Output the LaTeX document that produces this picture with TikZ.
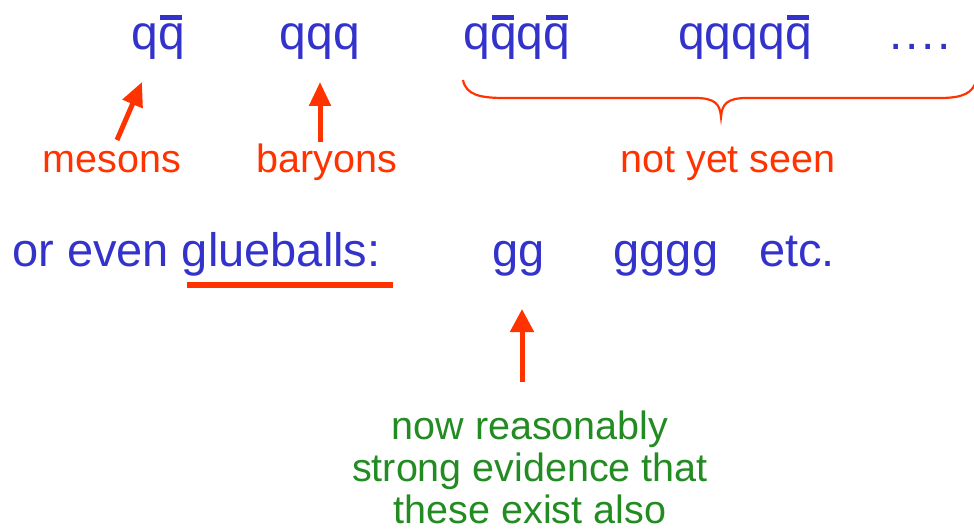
\documentclass[tikz,border=0pt]{standalone}
\usepackage{fontspec}
\setmainfont{Liberation Sans}
\usetikzlibrary{arrows.meta}
\definecolor{qblue}{RGB}{51,51,204}
\definecolor{qred}{RGB}{255,51,0}
\definecolor{qgreen}{RGB}{34,139,34}
\newcommand{\aq}{\rlap{\kern0.04em\rule[0.62em]{0.46em}{0.1em}}q}

\begin{document}
\begin{tikzpicture}[x=1pt,y=-1pt,
  every node/.style={inner sep=0pt,anchor=base},
  quark/.style={text=qblue,font=\fontsize{48}{58}\selectfont},
  glue/.style={text=qblue,font=\fontsize{47}{56}\selectfont},
  lbl/.style={text=qred,font=\fontsize{39.5}{47}\selectfont},
  note/.style={text=qgreen,font=\fontsize{39.5}{42}\selectfont,align=center},
  uparrow/.style={draw=qred,line width=5pt,-{Triangle[width=21pt,length=24pt]}}]
\useasboundingbox (0,0) rectangle (974,532);
% quark content
\node[quark] (qqbar) at (158,50) {q\aq};
\node[quark] (qqq) at (320,50) {qqq};
\node[quark] (tetra) at (517,50) {q\aq q\aq};
\node[quark] (penta) at (745,50) {qqqq\aq};
\node[quark] (more) at (920,50) {.\kern2.7pt.\kern2.7pt.\kern2.7pt.};
% labels
\node[lbl] (mesons) at (112,172) {mesons};
\node[lbl] (baryons) at (327,172) {baryons};
\node[lbl] (unseen) at (728,172) {not yet seen};
\coordinate (mtail) at (117,140);
\coordinate (mtip) at (142,82);
\coordinate (btail) at (320,142);
\coordinate (btip) at (320,82);
\draw[uparrow] (mtail) -- (mtip);
\draw[uparrow] (btail) -- (btip);
\draw[qred,line width=2.2pt] (463,80) .. controls (466,95) and (480,98) .. (505,98) -- (695,98)
  .. controls (715,98) and (720,104) .. (721,117) .. controls (722,104) and (727,98) .. (747,98)
  -- (940,98) .. controls (965,98) and (972,92) .. (976,82);
% glueballs
\node[glue,anchor=base west] (oreven) at (12,266) {or even glueballs:};
\coordinate (ulL) at (187,285);
\coordinate (ulR) at (393,285);
\draw[qred,line width=6pt] (ulL) -- (ulR);
\node[glue] (gg) at (519,266) {gg};
\node[glue] (gggg) at (666,266) {gggg};
\node[glue] (etc) at (797,266) {etc.};
\coordinate (gtail) at (522,382);
\coordinate (gtip) at (522,309);
\draw[uparrow,-{Triangle[width=23pt,length=23pt]}] (gtail) -- (gtip);
\node[note,anchor=north] (evidence) at (530,411) {now reasonably\\strong evidence that\\these exist also};
\end{tikzpicture}
\end{document}
